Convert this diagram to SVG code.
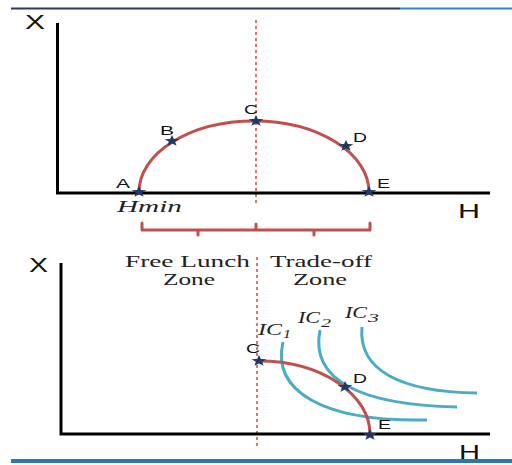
<svg xmlns="http://www.w3.org/2000/svg" width="512" height="465" viewBox="0 0 512 465">
<style>
.axis{stroke:#000;stroke-width:3;fill:none}
.curve{stroke:#c0504d;stroke-width:3;fill:none}
.ic{stroke:#4bacc6;stroke-width:3;fill:none}
.dash{stroke:#d9534f;stroke-width:1.6;stroke-dasharray:3,3;fill:none}
.lbl{font-family:"Liberation Sans",Arial,sans-serif;font-size:13px;fill:#111}
.axl{font-family:"Liberation Sans",Arial,sans-serif;font-size:20px;fill:#111}
.ser{font-family:"Liberation Serif","Times New Roman",serif;font-size:17px;fill:#222}
.it{font-family:"Liberation Serif","Times New Roman",serif;font-style:italic;font-size:17px;fill:#222}
.sub{font-family:"Liberation Serif","Times New Roman",serif;font-style:italic;font-size:12px;fill:#222}
</style>
<defs>
<path id="star" d="M0,-6 L1.9,-2 7.4,-1.85 3.1,0.8 4.6,4.85 0,2.5 -4.6,4.85 -3.1,0.8 -7.4,-1.85 -1.9,-2Z" fill="#1f3864"/>
</defs>
<line x1="11" y1="8.5" x2="400" y2="8.5" stroke="#2f3a5c" stroke-width="2"/>
<line x1="400" y1="8.5" x2="512" y2="8.5" stroke="#2e86c8" stroke-width="2"/>
<line x1="11" y1="461" x2="512" y2="461" stroke="#2e75b6" stroke-width="4"/>
<g id="connectors">
<line class="dash" x1="256" y1="20" x2="256" y2="206"/>
<line class="dash" x1="257" y1="257" x2="257" y2="447"/>
</g>
<g id="top-graph">
<polyline class="axis" points="57.5,23 57.5,193 490,193"/>
<text class="axl" x="25" y="29" textLength="20" lengthAdjust="spacingAndGlyphs">X</text>
<text class="axl" x="458" y="218" textLength="22" lengthAdjust="spacingAndGlyphs">H</text>
<path class="curve" d="M139,192 A115,71 0 0 1 369,192"/>
<use href="#star" x="139" y="192"/>
<use href="#star" x="172" y="141"/>
<use href="#star" x="256" y="121"/>
<use href="#star" x="346" y="146"/>
<use href="#star" x="369" y="192"/>
<text class="lbl" x="116" y="188" textLength="14" lengthAdjust="spacingAndGlyphs">A</text>
<text class="lbl" x="160" y="135" textLength="14" lengthAdjust="spacingAndGlyphs">B</text>
<text class="lbl" x="244" y="114" textLength="14" lengthAdjust="spacingAndGlyphs">C</text>
<text class="lbl" x="353" y="142" textLength="14" lengthAdjust="spacingAndGlyphs">D</text>
<text class="lbl" x="377" y="188" textLength="13" lengthAdjust="spacingAndGlyphs">E</text>
<text class="it" x="117" y="212" textLength="65" lengthAdjust="spacingAndGlyphs">Hmin</text>
<path class="curve" stroke-linecap="round" stroke-linejoin="round" d="M142,223 V230 H256 V224 M256,230 H370 V223 M198,230 V235 M314,230 V235"/>
<text class="ser" x="125" y="267" textLength="125" lengthAdjust="spacingAndGlyphs">Free Lunch</text>
<text class="ser" x="163" y="285" textLength="52" lengthAdjust="spacingAndGlyphs">Zone</text>
<text class="ser" x="270" y="267" textLength="102" lengthAdjust="spacingAndGlyphs">Trade-off</text>
<text class="ser" x="293" y="285" textLength="54" lengthAdjust="spacingAndGlyphs">Zone</text>
</g>
<g id="bottom-graph">
<polyline class="axis" points="61,263 61,434 490,434"/>
<text class="axl" x="29" y="272" textLength="19" lengthAdjust="spacingAndGlyphs">X</text>
<text class="axl" x="459" y="459" textLength="21" lengthAdjust="spacingAndGlyphs">H</text>
<path class="ic" d="M283,342 C272,390 320,422 427,420"/>
<path class="ic" d="M320,330 C310,380 360,405 457,407"/>
<path class="ic" d="M362,327 C358,370 400,392 477,393"/>
<path class="curve" d="M259,361 A111,73 0 0 1 370,434"/>
<use href="#star" x="259" y="361"/>
<use href="#star" x="345" y="387"/>
<use href="#star" x="370" y="435"/>
<text class="lbl" x="246" y="353" textLength="14" lengthAdjust="spacingAndGlyphs">C</text>
<text class="lbl" x="353" y="383" textLength="14" lengthAdjust="spacingAndGlyphs">D</text>
<text class="lbl" x="378" y="429" textLength="13" lengthAdjust="spacingAndGlyphs">E</text>
<text class="it" x="258" y="335" textLength="24" lengthAdjust="spacingAndGlyphs">IC</text>
<text class="sub" x="283" y="338" textLength="8" lengthAdjust="spacingAndGlyphs">1</text>
<text class="it" x="298" y="323" textLength="22" lengthAdjust="spacingAndGlyphs">IC</text>
<text class="sub" x="321" y="327" textLength="10" lengthAdjust="spacingAndGlyphs">2</text>
<text class="it" x="345" y="318" textLength="22" lengthAdjust="spacingAndGlyphs">IC</text>
<text class="sub" x="368" y="322" textLength="11" lengthAdjust="spacingAndGlyphs">3</text>
</g>
</svg>
